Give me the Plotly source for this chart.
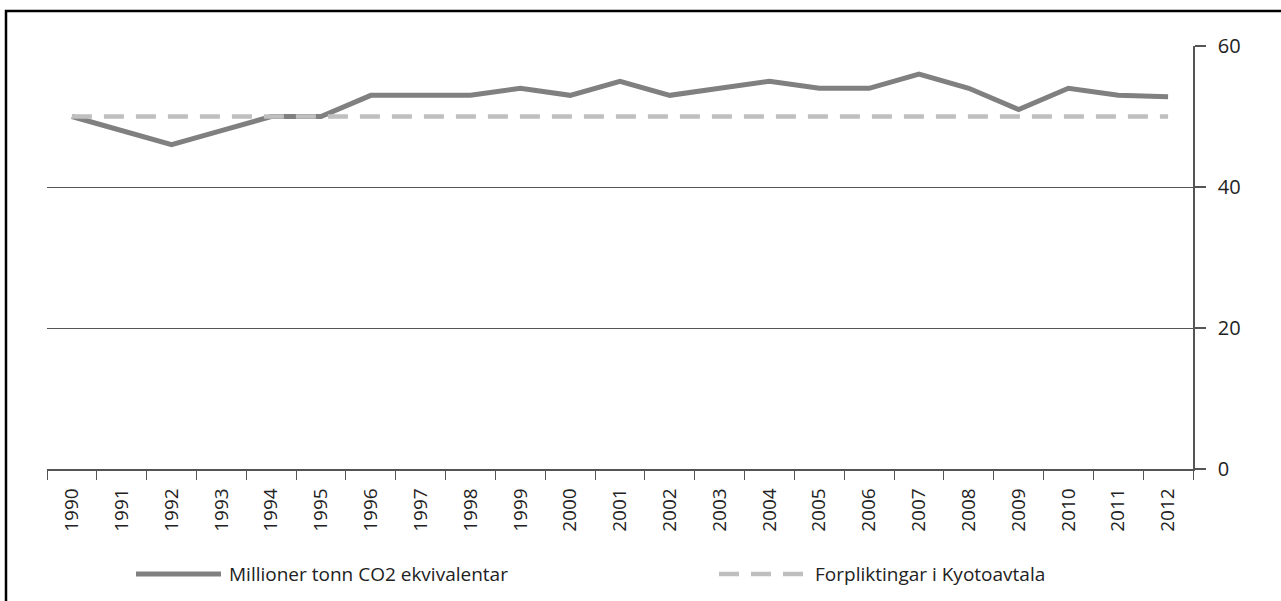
import plotly.graph_objects as go

years = [str(y) for y in range(1990, 2013)]
emissions = [50, 48, 46, 48, 50, 50, 53, 53, 53, 54, 53, 55, 53, 54, 55, 54, 54, 56, 54, 51, 54, 53, 52.8]
kyoto = [50] * len(years)
series_names = ["Millioner tonn CO2 ekvivalentar", "Forpliktingar i Kyotoavtala"]
y_ticks = [0, 20, 40, 60]

FONT = "Open Sans"
FS = 19
W, H = 1281, 601
L, R, T, B = 47, 1193, 46, 469

fig = go.Figure()
fig.add_trace(go.Scatter(x=years, y=emissions, mode="lines", name=series_names[0],
                         line=dict(color="#808080", width=5), showlegend=False))
fig.add_trace(go.Scatter(x=years, y=kyoto, mode="lines", name=series_names[1],
                         line=dict(color="#bfbfbf", width=4.5, dash="20px,12px"), showlegend=False))

def px(xp):
    return (xp - L) / (R - L)

def py(yp):
    return (B - yp) / (B - T)

shapes = [
    # outer frame
    dict(type="rect", xref="paper", yref="paper", x0=px(6), x1=px(1290), y0=py(610), y1=py(11),
         line=dict(color="black", width=2.5), fillcolor="rgba(0,0,0,0)", layer="below"),
    # legend lines
    dict(type="line", xref="paper", yref="paper", x0=px(136), x1=px(221), y0=py(574), y1=py(574),
         line=dict(color="#808080", width=5)),
    dict(type="line", xref="paper", yref="paper", x0=px(719), x1=px(803), y0=py(574), y1=py(574),
         line=dict(color="#bfbfbf", width=4.5, dash="20px,12px")),
]
annotations = [
    dict(xref="paper", yref="paper", x=px(227), y=py(574), text=series_names[0], showarrow=False,
         xanchor="left", yanchor="middle", font=dict(family=FONT, size=FS, color="#222")),
    dict(xref="paper", yref="paper", x=px(813), y=py(574), text=series_names[1], showarrow=False,
         xanchor="left", yanchor="middle", font=dict(family=FONT, size=FS, color="#222")),
]

fig.update_layout(
    width=W, height=H,
    margin=dict(l=L, r=W - R, t=T, b=H - B, pad=0),
    paper_bgcolor="white", plot_bgcolor="white",
    font=dict(family=FONT, size=FS, color="#222"),
    shapes=shapes, annotations=annotations,
    showlegend=False,
)
fig.update_xaxes(
    type="category", range=[-0.5, len(years) - 0.5],
    tickangle=-90, tickson="boundaries", ticks="outside", ticklen=9, tickwidth=1.2,
    tickcolor="#555", showline=True, linecolor="#555", linewidth=1.5,
    showgrid=False, zeroline=False, tickfont=dict(family=FONT, size=FS, color="#222"),
    ticklabelstandoff=10,
)
fig.update_yaxes(
    side="right", range=[0, 60], tickvals=y_ticks, ticks="outside", ticklen=11,
    tickwidth=1.5, tickcolor="#555", showline=True, linecolor="#555", linewidth=1.5,
    showgrid=True, gridcolor="#555", gridwidth=1.4, zeroline=False,
    tickfont=dict(family=FONT, size=20, color="#222"), ticklabelstandoff=8,
)

fig.write_html("out.html", config={"displayModeBar": False},
               post_script="document.body.style.margin='0';")
